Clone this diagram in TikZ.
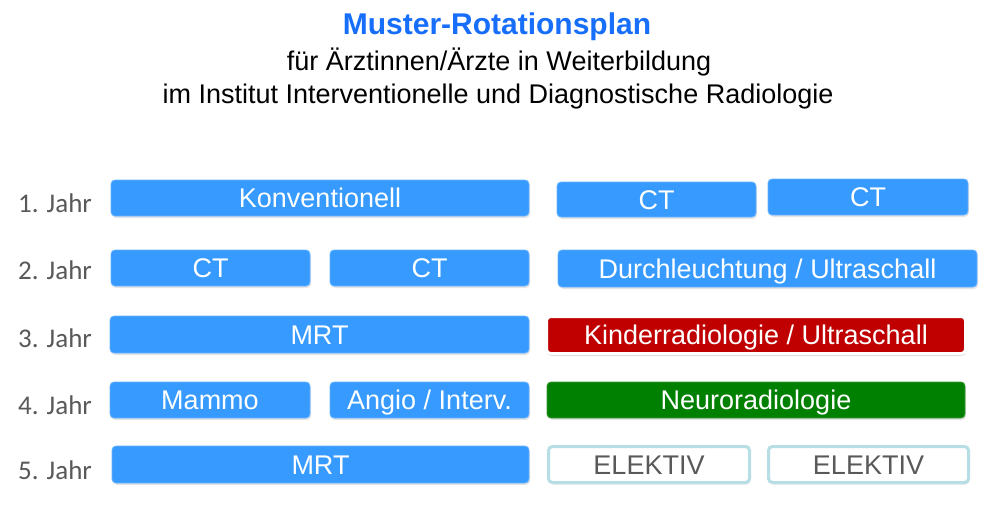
\documentclass[tikz,border=0pt]{standalone}
\usepackage{fontspec}
\setmainfont{Liberation Sans}
\newfontfamily\yearfont{Carlito}
\usepackage{tikz}
\usetikzlibrary{shadows}
\usepackage{xcolor}
\definecolor{titleblue}{RGB}{22,110,250}
\definecolor{boxblue}{RGB}{54,154,255}
\definecolor{boxred}{RGB}{192,0,0}
\definecolor{boxgreen}{RGB}{0,128,0}
\definecolor{elekborder}{RGB}{183,221,229}
\definecolor{labelgray}{RGB}{89,89,89}

\tikzset{
  rotbox/.style={rounded corners=4pt, minimum height=36pt, inner sep=0pt,
    text height=19.5pt, text depth=0pt,
    font=\fontsize{27}{30}\selectfont, text=white,
    drop shadow={opacity=0.2, shadow xshift=1pt, shadow yshift=-2pt}},
  bluebox/.style={rotbox, fill=boxblue, draw=boxblue!75!white, line width=0.8pt},
  elekbox/.style={rotbox, fill=white, draw=elekborder, line width=3pt,
    text=labelgray, minimum height=36pt},
}

\begin{document}
\begin{tikzpicture}[x=1pt,y=-1pt]
    \useasboundingbox[fill=white] (0,0) rectangle (990,506);

    % Title
    \node[font=\fontsize{30}{36}\selectfont\bfseries, text=titleblue] (title) at (497,27) {Muster-Rotationsplan};
    \node[font=\fontsize{27}{32}\selectfont] (sub1) at (499,62) {für Ärztinnen/Ärzte in Weiterbildung};
    \node[font=\fontsize{27}{32}\selectfont] (sub2) at (498,97) {im Institut Interventionelle und Diagnostische Radiologie};

    % Years
    \foreach \n/\y in {1/203,2/270,3/338,4/405,5/470}
      \node[font=\yearfont\fontsize{27}{30}\selectfont, text=labelgray] (year\n) at (55,\y) {\n. Jahr};

    % 1. Jahr
    \node[bluebox, minimum width=418pt] (konv) at (320,198) {Konventionell};
    \node[bluebox, minimum width=199pt, minimum height=35pt] (cta) at (656.5,199.5) {CT};
    \node[bluebox, minimum width=200pt] (ctb) at (868,197) {CT};

    % 2. Jahr
    \node[bluebox, minimum width=199pt] (ctc) at (210.5,268) {CT};
    \node[bluebox, minimum width=199pt] (ctd) at (429.5,268) {CT};
    \node[bluebox, minimum width=419pt, minimum height=37pt] (durch) at (767.5,268.5) {Durchleuchtung / Ultraschall};

    % 3. Jahr
    \node[bluebox, minimum width=419pt, minimum height=37pt] (mrta) at (319.5,334.5) {MRT};
    \node[rotbox, fill=boxred, draw=white, line width=3pt, minimum width=419pt, minimum height=37pt,
      drop shadow={opacity=0.3, shadow xshift=0pt, shadow yshift=-2pt}] (kinder) at (756,335) {Kinderradiologie / Ultraschall};

    % 4. Jahr
    \node[bluebox, minimum width=200pt] (mammo) at (210,400) {Mammo};
    \node[bluebox, minimum width=199pt] (angio) at (429.5,400) {Angio / Interv.};
    \node[rotbox, fill=boxgreen, draw=boxgreen!80!white, line width=0.8pt, minimum width=418pt] (neuro) at (756,400) {Neuroradiologie};

    % 5. Jahr
    \node[bluebox, minimum width=417pt, minimum height=37pt] (mrtb) at (320.5,464.5) {MRT};
    \node[elekbox, minimum width=201pt] (eleka) at (649,464.5) {ELEKTIV};
    \node[elekbox, minimum width=200pt] (elekb) at (868.5,464.5) {ELEKTIV};
\end{tikzpicture}
\end{document}
